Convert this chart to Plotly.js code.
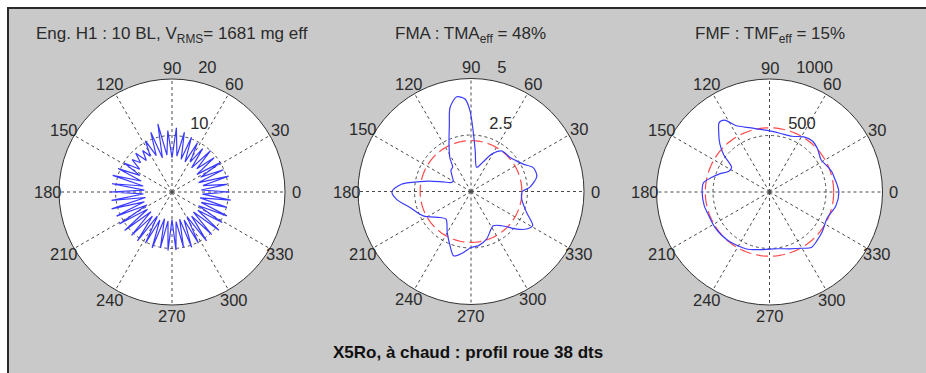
<!DOCTYPE html>
<html>
<head>
<meta charset="utf-8">
<script src="https://cdn.plot.ly/plotly-3.0.1.min.js"></script>
<style>
  html, body { margin: 0; padding: 0; background: #ffffff; }
  #frame { position: absolute; left: 7px; top: 7px; width: 919px; height: 366px; box-sizing: border-box;
           border-top: 2px solid #2a2a2a; border-left: 2px solid #2a2a2a; background: #c9c9c9; }
  #plot { position: absolute; left: 9px; top: 9px; width: 917px; height: 364px; }
</style>
</head>
<body>
<div id="frame"></div>
<div id="plot"></div>
<script>
// ---------------- DATA ----------------
const ANGLE_TICKS = [0, 30, 60, 90, 120, 150, 180, 210, 240, 270, 300, 330];
const ANGLE_LABELS = ['0', '30', '60', '90', '120', '150', '180', '210', '240', '270', '300', '330'];

const RMAX = [20, 5, 1000];
const RADIAL_TICKS = [[10, 20], [2.5, 5], [500, 1000]];
const RADIAL_LABELS = [['10', '20'], ['2.5', '5'], ['500', '1000']];

const TITLES = [
  'Eng. H1 : 10 BL, V<sub>RMS</sub>= 1681 mg eff',
  'FMA : TMA<sub>eff</sub> = 48%',
  'FMF : TMF<sub>eff</sub> = 15%'
];
const FOOTER = '<b>X5Ro, à chaud : profil roue 38 dts</b>';

// Panel 1: vibration amplitude, alternating peak / trough, equally spaced in angle from 0 to 360
const P1_R = [
  10.2, 5.2, 9.8, 5.6, 10.4, 5.0, 9.9, 5.7, 10.1, 5.4, 9.6, 6.0, 10.0, 5.5, 9.4, 6.2,
  9.8, 5.8, 10.3, 6.0, 10.8, 6.4, 11.4, 6.1, 10.9, 6.6, 12.3, 6.3, 11.2, 7.0, 10.2, 7.4,
  9.0, 7.2, 9.4, 7.6, 9.1, 7.0, 9.9, 6.4, 10.4, 5.8, 10.9, 5.2, 10.7, 4.9, 11.0, 5.1,
  10.8, 4.8, 11.1, 5.2, 10.7, 5.0, 10.9, 5.3, 10.8, 5.1, 10.5, 5.5, 10.6, 5.0, 10.2, 5.4,
  10.5, 4.9, 10.1, 5.2, 10.4, 4.9, 10.3, 5.3, 10.0, 5.0, 10.4, 5.4, 10.2, 5.1, 10.6, 5.5,
  10.3, 5.2, 10.7, 5.6, 10.4, 5.3, 10.6, 5.5, 10.1, 5.1, 10.5, 5.4, 10.2
];

// Panel 2: FMA curve (angle in degrees, amplitude) and its effective-value circle
const P2_THETA = [0, 4, 13, 21, 27.6, 35, 41, 53, 61, 68, 77, 84, 88, 90.7, 93.7, 98.6, 104, 108, 115, 122,
  127, 133, 140, 149, 155, 161, 166, 169, 174, 180, 186, 194.7, 207, 220, 228, 240, 249, 255, 263, 270,
  278, 288, 303, 312, 320.5, 326, 331, 339.3, 351.4, 360];
const P2_R = [2.27, 2.6, 2.99, 2.95, 2.61, 2.4, 2.29, 2.25, 1.89, 1.4, 1.1, 1.8, 2.69, 3.57, 4.1, 4.24, 3.83, 3.1, 2.3, 1.77,
  1.35, 1.3, 1.1, 0.92, 0.95, 1.3, 1.9, 2.3, 3.1, 3.5, 3.31, 2.79, 2.37, 1.79, 1.65, 2.1, 2.58, 2.95, 2.72, 2.48,
  2.42, 2.22, 1.81, 2.04, 2.62, 2.97, 3.12, 2.63, 2.27, 2.27];
const P2_REF = 2.25;

// Panel 3: FMF curve and its effective-value circle
const P3_THETA = [0, 6, 12, 18, 24, 32, 42, 50, 58, 68, 80, 92, 106, 117, 122, 126, 130, 136, 141, 147,
  153, 160, 166, 172, 180, 192, 202, 213, 229, 248, 264, 277, 290, 300, 307, 315, 323, 336, 348, 360];
const P3_R = [614, 602, 588, 580, 560, 538, 572, 590, 575, 532, 528, 545, 590, 660, 750, 758, 700, 610, 520, 400,
  404, 470, 530, 590, 596, 590, 576, 576, 566, 544, 512, 506, 535, 575, 615, 600, 584, 560, 600, 614];
const P3_REF = 568;

// ---------------- LAYOUT GEOMETRY ----------------
const FONT = '"Liberation Sans", Arial, Helvetica, sans-serif';
const TXT = '#2b2b2b';
const W = 917, H = 364, OX = 9, OY = 9;          // plot div size and page offset
const CENTERS = [[172, 192], [471, 191.5], [769.5, 192]];  // page pixels
const RADIUS = 113;
const fx = px => (px - OX) / W;
const fy = py => (H - (py - OY)) / H;
const rad = d => d * Math.PI / 180;

const traces = [];
const layout = {
  width: W, height: H,
  margin: { l: 0, r: 0, t: 0, b: 0 },
  paper_bgcolor: '#c9c9c9',
  showlegend: false,
  font: { family: FONT, color: TXT, size: 16 },
  annotations: []
};

const subs = ['polar', 'polar2', 'polar3'];
subs.forEach((sp, i) => {
  const [cx, cy] = CENTERS[i];
  const rmax = RMAX[i];
  layout[sp] = {
    domain: { x: [fx(cx - RADIUS), fx(cx + RADIUS)], y: [fy(cy + RADIUS), fy(cy - RADIUS)] },
    bgcolor: '#ffffff',
    radialaxis: {
      range: [0, rmax], tickvals: [rmax / 2], showticklabels: false, ticks: '',
      showline: false, gridcolor: '#4a4a4a', gridwidth: 1, griddash: 'dot'
    },
    angularaxis: {
      tickvals: ANGLE_TICKS, showticklabels: false, ticks: '', direction: 'counterclockwise', rotation: 0,
      showline: true, linecolor: '#333333', linewidth: 1,
      gridcolor: '#4a4a4a', gridwidth: 1, griddash: 'dot'
    }
  };
  // angular labels, centred at 1.1 x outer radius (as MATLAB polar does)
  ANGLE_TICKS.forEach((a, k) => {
    layout.annotations.push({
      xref: 'paper', yref: 'paper',
      x: fx(cx + 1.1 * RADIUS * Math.cos(rad(a))), y: fy(cy - 1.1 * RADIUS * Math.sin(rad(a))),
      xanchor: 'center', yanchor: 'middle', text: ANGLE_LABELS[k], showarrow: false,
      font: { family: FONT, size: 16.5, color: TXT }, borderpad: 0
    });
  });
  // radial labels along the 82 degree direction
  RADIAL_TICKS[i].forEach((v, k) => {
    const rp = (v + rmax / 40) / rmax * RADIUS;
    layout.annotations.push({
      xref: 'paper', yref: 'paper',
      x: fx(cx + rp * Math.cos(rad(82))), y: fy(cy - rp * Math.sin(rad(82))),
      xanchor: 'left', yanchor: 'bottom', text: '\u00a0\u00a0' + RADIAL_LABELS[i][k], showarrow: false,
      font: { family: FONT, size: 16.5, color: TXT }, borderpad: 0
    });
  });
  // title
  layout.annotations.push({
    xref: 'paper', yref: 'paper', x: fx(cx), y: fy(22), xanchor: 'center', yanchor: 'top',
    text: TITLES[i], showarrow: false, font: { family: FONT, size: 17, color: TXT }
  });
});

// data traces
traces.push({
  type: 'scatterpolar', subplot: 'polar', mode: 'lines',
  r: P1_R, theta0: 0, dtheta: 360 / (P1_R.length - 1),
  line: { color: '#3b3bff', width: 1.2 }, hoverinfo: 'skip'
});
traces.push({
  type: 'scatterpolar', subplot: 'polar2', mode: 'lines',
  r: new Array(181).fill(P2_REF), theta0: 0, dtheta: 2,
  line: { color: '#ff4a4a', width: 1.2, dash: '12px,5px' }, hoverinfo: 'skip'
});
traces.push({
  type: 'scatterpolar', subplot: 'polar2', mode: 'lines',
  r: P2_R, theta: P2_THETA,
  line: { color: '#3b3bff', width: 1.2, shape: 'spline', smoothing: 0.8 }, hoverinfo: 'skip'
});
traces.push({
  type: 'scatterpolar', subplot: 'polar3', mode: 'lines',
  r: new Array(181).fill(P3_REF), theta0: 0, dtheta: 2,
  line: { color: '#ff4a4a', width: 1.2, dash: '12px,5px' }, hoverinfo: 'skip'
});
traces.push({
  type: 'scatterpolar', subplot: 'polar3', mode: 'lines',
  r: P3_R, theta: P3_THETA,
  line: { color: '#3b3bff', width: 1.2, shape: 'spline', smoothing: 0.8 }, hoverinfo: 'skip'
});

layout.annotations.push({
  xref: 'paper', yref: 'paper', x: fx(468), y: fy(352), xanchor: 'center', yanchor: 'middle',
  text: FOOTER, showarrow: false, font: { family: FONT, size: 17, color: '#111111' }
});

Plotly.newPlot('plot', traces, layout, { displayModeBar: false, staticPlot: true });
</script>
</body>
</html>
